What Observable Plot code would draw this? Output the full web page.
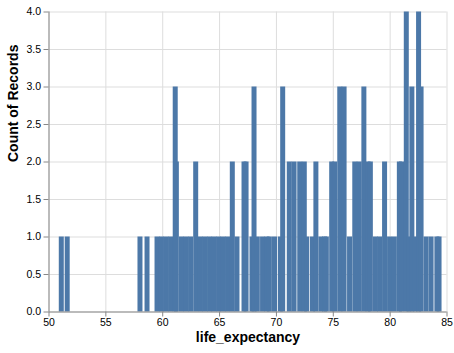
<!DOCTYPE html>
<html>
<head>
<meta charset="utf-8">
<script src="https://cdn.jsdelivr.net/npm/d3@7"></script>
<script src="https://cdn.jsdelivr.net/npm/@observablehq/plot@0.6"></script>
<style>
  html, body { margin: 0; padding: 0; background: #fff; }
</style>
</head>
<body>
<div id="chart"></div>
<script>
// distinct life_expectancy values and their record counts
const lifeExpectancy = [
  51.08, 51.60, 58.00, 58.62, 59.50, 59.89, 60.29, 60.69, 61.10, 61.20,
  61.65, 62.05, 62.45, 62.90, 63.32, 63.72, 64.12, 64.51, 64.91, 65.30,
  65.70, 66.12, 66.53, 67.15, 67.33, 67.85, 68.03, 68.32, 68.78, 69.17,
  69.38, 69.83, 70.34, 70.55, 71.13, 71.55, 72.05, 72.45, 72.66, 73.16,
  73.47, 73.91, 74.23, 74.39, 74.86, 75.13, 75.57, 75.95, 76.43, 76.89,
  77.28, 77.69, 78.06, 78.26, 78.70, 79.08, 79.51, 79.95, 80.37, 80.81,
  81.00, 81.42, 81.66, 81.91, 82.19, 82.50, 82.72, 83.16, 83.60, 84.11,
  84.30
];
const counts = [
  1, 1, 1, 1, 1, 1, 1, 1, 3, 2,
  1, 1, 1, 2, 1, 1, 1, 1, 1, 1,
  1, 2, 1, 2, 2, 1, 3, 1, 1, 1,
  1, 1, 1, 3, 2, 2, 2, 2, 1, 1,
  2, 1, 1, 1, 2, 2, 3, 3, 1, 2,
  2, 3, 2, 2, 1, 1, 2, 1, 1, 2,
  2, 4, 1, 3, 1, 4, 3, 1, 1, 1,
  1
];
const xTicks = [50, 55, 60, 65, 70, 75, 80, 85];
const yTicks = [0, 0.5, 1, 1.5, 2, 2.5, 3, 3.5, 4];
const xTitle = "life_expectancy";
const yTitle = "Count of Records";

const data = lifeExpectancy.map((v, i) => ({value: v, count: counts[i]}));

const font = "Arial, 'Liberation Sans', Helvetica, sans-serif";

const chart = Plot.plot({
  width: 454,
  height: 353,
  marginLeft: 48.5,
  marginRight: 7.5,
  marginTop: 11.5,
  marginBottom: 41.5,
  style: {fontFamily: font, fontSize: "10px", background: "#fff", color: "#000"},
  x: {domain: [50, 85]},
  y: {domain: [0, 4]},
  marks: [
    Plot.gridX(xTicks, {stroke: "#ddd", strokeOpacity: 1}),
    Plot.gridY(yTicks, {stroke: "#ddd", strokeOpacity: 1}),
    Plot.ruleX(data, {x: "value", y1: 0, y2: "count", stroke: "#4c78a8", strokeWidth: 5}),
    Plot.axisX({ticks: xTicks, tickSize: 5, tickPadding: 2, stroke: "#888", fill: "#000", fontSize: 10.5, label: null}),
    Plot.axisY({ticks: yTicks, tickSize: 5, tickPadding: 3, tickFormat: d3.format(".1f"), stroke: "#888", fill: "#000", fontSize: 10.5, label: null}),
    Plot.ruleY([0], {stroke: "#888"}),
    Plot.ruleX([50], {stroke: "#888"}),
    Plot.text([xTitle], {text: d => d, frameAnchor: "bottom", dy: 30, fontWeight: "bold", fontSize: 14, fill: "#000"}),
    Plot.text([yTitle], {text: d => d, frameAnchor: "left", dx: -35, rotate: -90, fontWeight: "bold", fontSize: 14, fill: "#000"})
  ]
});
document.getElementById("chart").appendChild(chart);
</script>
</body>
</html>
